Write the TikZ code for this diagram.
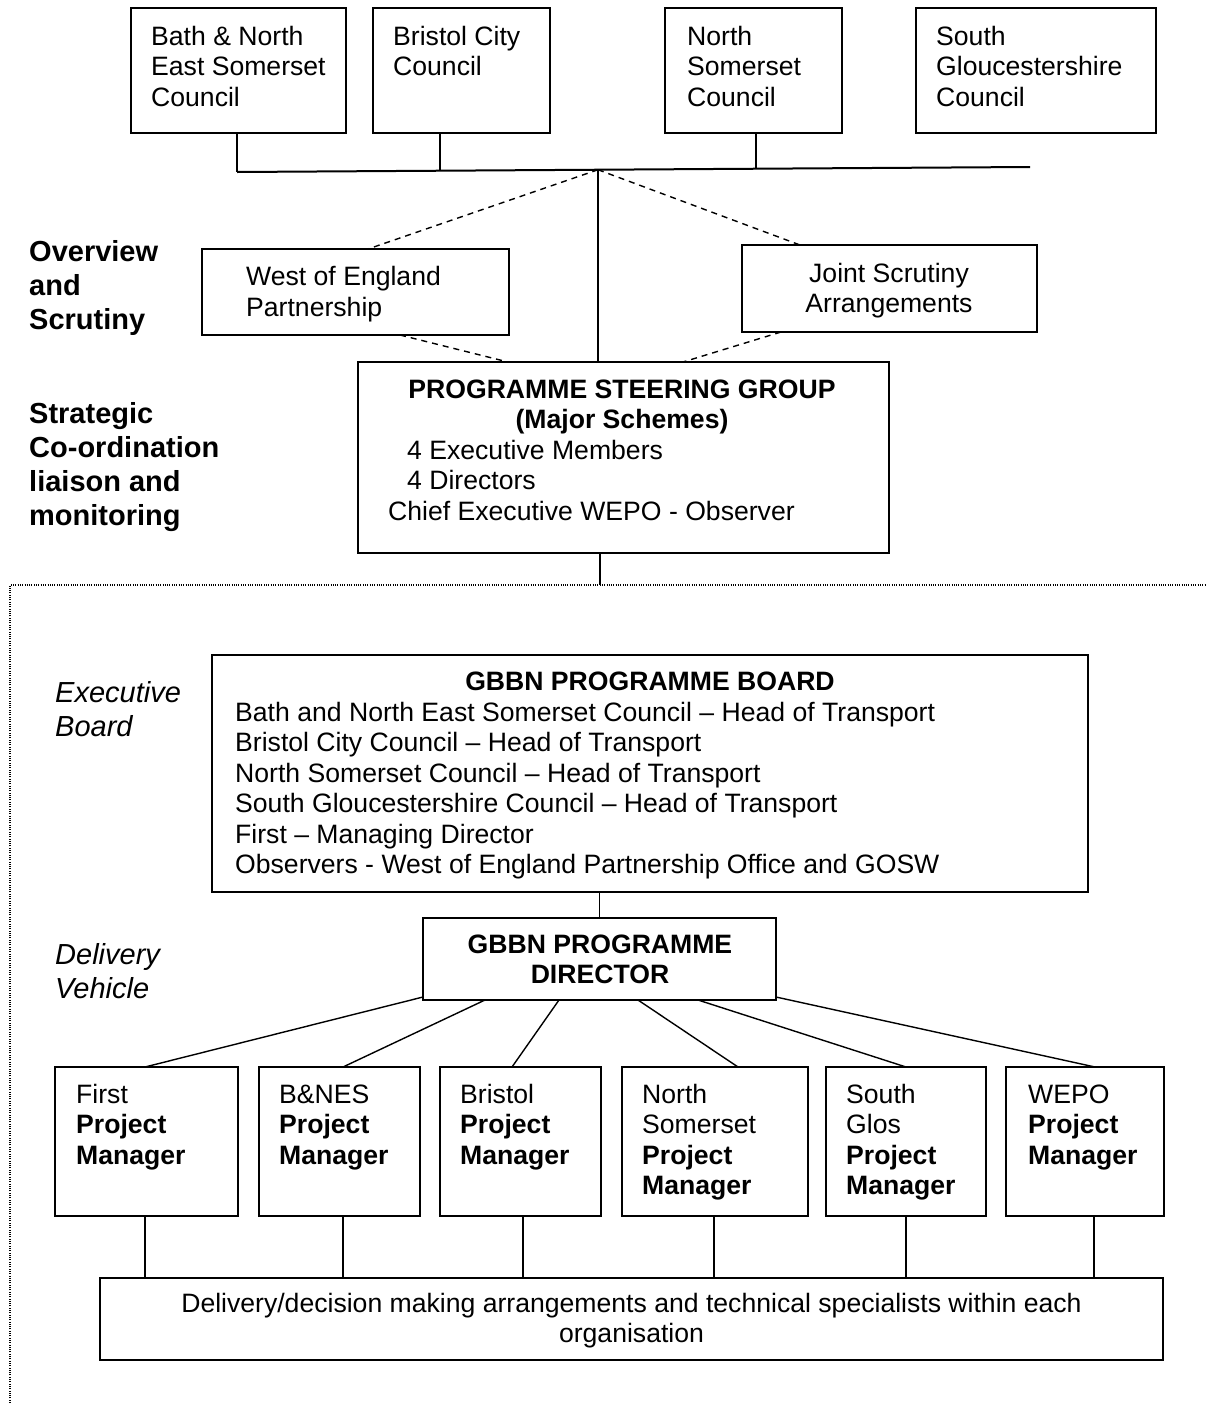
\documentclass[tikz,border=0pt]{standalone}
\usepackage{fontspec}
\setmainfont{Liberation Sans}
\usetikzlibrary{calc}
\newcommand\fs{\fontsize{26.6}{30.5}\selectfont}
\newcommand\fl{\fontsize{29}{34.3}\selectfont}
\newcommand\T[2][l]{\begin{tabular}[t]{@{}#1@{}}#2\end{tabular}}
\newcommand\bx[5]{\node[boxs, minimum width={#4-#2}, minimum height={#5-#3}] (#1) at ({(#2+#4)/2},{(#3+#5)/2}) {};}
\tikzset{
  boxs/.style={draw, rectangle, line width=1.6pt, inner sep=0pt, outer sep=0pt},
  txt/.style={inner sep=0pt, anchor=base west, font=\fs},
  ctxt/.style={inner sep=0pt, anchor=base, font=\fs},
  lbl/.style={inner sep=0pt, anchor=base west, font=\fl},
  conn/.style={line width=1.4pt},
  bus/.style={line width=2pt},
  dsh/.style={line width=1.4pt, dash pattern=on 6pt off 5pt},
  frame/.style={line width=1.1pt, dash pattern=on 1pt off 1.3pt}
}
\begin{document}
\begin{tikzpicture}[x=1pt,y=-1pt]
\useasboundingbox (0,0) rectangle (1205,1403);
% top councils
\bx{b1}{131}{8}{346}{133}
\bx{b2}{373}{8}{550}{133}
\bx{b3}{665}{8}{842}{133}
\bx{b4}{916}{8}{1156}{133}
\node[txt] (t1) at (151,45) {\T{Bath \& North\\East Somerset\\Council}};
\node[txt] (t2) at (393,45) {\T{Bristol City\\Council}};
\node[txt] (t3) at (687,45) {\T{North\\Somerset\\Council}};
\node[txt] (t4) at (936,45) {\T{South\\Gloucestershire\\Council}};
\coordinate (busL) at (237,172);
\coordinate (busR) at (1030,167);
\coordinate (j2) at ($(busL)!{(440-237)/793}!(busR)$);
\coordinate (j3) at ($(busL)!{(756-237)/793}!(busR)$);
\coordinate (J) at ($(busL)!{(598-237)/793}!(busR)$);
\draw[bus] (busL) -- (busR);
\draw[conn] (b1.south -| busL) -- (busL);
\draw[conn] (b2.south -| j2) -- (j2);
\draw[conn] (b3.south -| j3) -- (j3);
% overview
\bx{wep}{202}{249}{509}{335}
\bx{jsa}{742}{245}{1037}{332}
\node[txt] (twep) at (246,285.5) {\T{West of England\\Partnership}};
\node[ctxt] (tjsa) at (889,282) {\T[c]{Joint Scrutiny\\Arrangements}};
\bx{psg}{358}{362}{889}{553}
\node[ctxt] (tpsg) at (622,398) {\bfseries\T[c]{PROGRAMME STEERING GROUP\\(Major Schemes)}};
\node[txt] (tpsg2) at (388,459) {\T{\hspace{19pt}4 Executive Members\\\hspace{19pt}4 Directors\\Chief Executive WEPO - Observer}};
\draw[dsh] (J) -- ([xshift=166pt]wep.north west);
\draw[dsh] (J) -- ([xshift=58pt]jsa.north west);
\draw[dsh] ([xshift=198pt]wep.south west) -- ([xshift=150pt]psg.north west);
\draw[dsh] ([xshift=39pt]jsa.south west) -- ([xshift=325pt]psg.north west);
\draw[conn] (J) -- (psg.north -| J);
% left labels
\node[lbl] (l1) at (29,261) {\bfseries\T{Overview\\and\\Scrutiny}};
\node[lbl] (l2) at (29,423) {\bfseries\T{Strategic\\Co-ordination\\liaison and\\monitoring}};
\node[lbl] (l3) at (55,702) {\itshape\T{Executive\\Board}};
\node[lbl] (l4) at (55,964) {\itshape\T{Delivery\\Vehicle}};
% frame
\coordinate (ftop) at (600,585);
\coordinate (fl) at (10,585);
\coordinate (fb) at (10,1403);
\coordinate (fr) at (1205,585);
\draw[frame] (fb) -- (fl) -- (fr);
\draw[conn] (psg.south -| ftop) -- (ftop);
% board
\bx{board}{212}{655}{1088}{892}
\node[ctxt] (tboard) at (650,690) {\bfseries GBBN PROGRAMME BOARD};
\node[txt] (tboard2) at (235,721) {\T{Bath and North East Somerset Council -- Head of Transport\\Bristol City Council -- Head of Transport\\North Somerset Council -- Head of Transport\\South Gloucestershire Council -- Head of Transport\\First -- Managing Director\\Observers - West of England Partnership Office and GOSW}};
% director
\bx{dir}{423}{918}{776}{1000}
\node[ctxt] (tdir) at (600,953) {\bfseries\T[c]{GBBN PROGRAMME\\DIRECTOR}};
\draw[conn] (dir.north |- board.south) -- (dir.north);
% project managers
\bx{pm1}{55}{1067}{238}{1216}
\bx{pm2}{259}{1067}{420}{1216}
\bx{pm3}{440}{1067}{601}{1216}
\bx{pm4}{622}{1067}{808}{1216}
\bx{pm5}{826}{1067}{986}{1216}
\bx{pm6}{1006}{1067}{1164}{1216}
\node[txt] (tpm1) at (76,1103) {\T{First\\\textbf{Project}\\\textbf{Manager}}};
\node[txt] (tpm2) at (279,1103) {\T{B\&NES\\\textbf{Project}\\\textbf{Manager}}};
\node[txt] (tpm3) at (460,1103) {\T{Bristol\\\textbf{Project}\\\textbf{Manager}}};
\node[txt] (tpm4) at (642,1103) {\T{North\\Somerset\\\textbf{Project}\\\textbf{Manager}}};
\node[txt] (tpm5) at (846,1103) {\T{South\\Glos\\\textbf{Project}\\\textbf{Manager}}};
\node[txt] (tpm6) at (1028,1103) {\T{WEPO\\\textbf{Project}\\\textbf{Manager}}};
\draw[conn] ([yshift=3pt]dir.south west) -- ([xshift=90pt]pm1.north west);
\draw[conn] ([xshift=62pt]dir.south west) -- ([xshift=84pt]pm2.north west);
\draw[conn] ([xshift=136pt]dir.south west) -- ([xshift=72pt]pm3.north west);
\draw[conn] ([xshift=215pt]dir.south west) -- ([xshift=116pt]pm4.north west);
\draw[conn] ([xshift=275pt]dir.south west) -- ([xshift=80pt]pm5.north west);
\draw[conn] ([yshift=3pt]dir.south east) -- ([xshift=89pt]pm6.north west);
% delivery
\bx{del}{100}{1278}{1163}{1360}
\node[ctxt] (tdel) at (631.5,1312) {\T[c]{Delivery/decision making arrangements and technical specialists within each\\organisation}};
\draw[conn] ([xshift=-1.5pt]pm1.south) -- ([xshift=-1.5pt]pm1.south |- del.north);
\draw[conn] ([xshift=3.5pt]pm2.south) -- ([xshift=3.5pt]pm2.south |- del.north);
\draw[conn] ([xshift=2.5pt]pm3.south) -- ([xshift=2.5pt]pm3.south |- del.north);
\draw[conn] ([xshift=-1pt]pm4.south) -- ([xshift=-1pt]pm4.south |- del.north);
\draw[conn] ([xshift=0pt]pm5.south) -- ([xshift=0pt]pm5.south |- del.north);
\draw[conn] ([xshift=9pt]pm6.south) -- ([xshift=9pt]pm6.south |- del.north);
\end{tikzpicture}
\end{document}
